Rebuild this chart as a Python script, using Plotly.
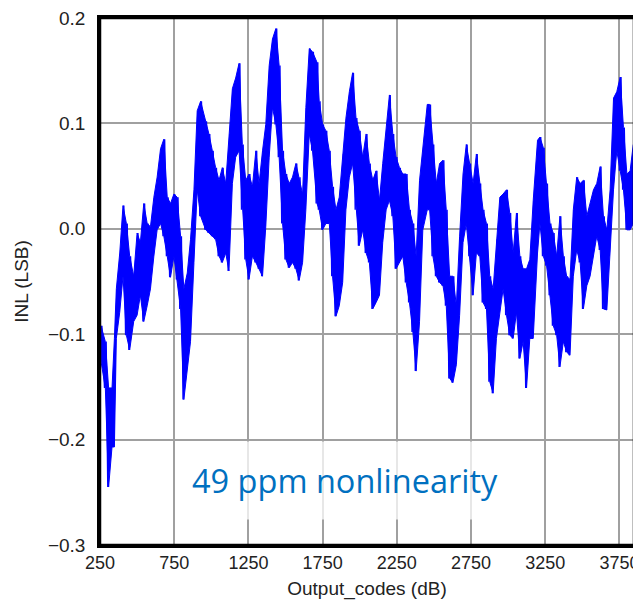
import plotly.graph_objects as go

# sample positions along the code axis, with the upper / lower edge of the INL band
codes = [257, 286, 308, 331, 347, 360, 383, 405, 428, 450, 477, 500, 522, 545, 568, 590, 613, 635, 658, 680,
         703, 725, 748, 770, 793, 815, 838, 860, 883, 905, 928, 962,
         984, 1007, 1029, 1052, 1074, 1097, 1119, 1142, 1164, 1187, 1209, 1232, 1254, 1277, 1300, 1322, 1345, 1367,
         1390, 1412, 1435, 1457, 1480, 1502, 1525, 1547, 1570, 1592, 1615, 1637, 1660, 1682, 1712,
         1727, 1750, 1772, 1795, 1817, 1840, 1862, 1885, 1907, 1930, 1952, 1975, 1997, 2020, 2043, 2065, 2088, 2110,
         2133, 2155, 2178, 2200, 2223, 2245, 2268, 2290, 2313, 2335, 2358, 2380, 2403, 2425, 2455,
         2471, 2493, 2516, 2538, 2561, 2583, 2606, 2628, 2651, 2673, 2696, 2718, 2741, 2764, 2786, 2809, 2831, 2854,
         2876, 2899, 2921, 2944, 2966, 2989, 3011, 3034, 3056, 3079, 3101, 3124, 3146, 3169, 3198,
         3214, 3237, 3259, 3282, 3304, 3327, 3349, 3372, 3394, 3417, 3439, 3462, 3485, 3507, 3530, 3552, 3575, 3597,
         3620, 3642, 3665, 3687, 3710, 3732, 3755, 3777, 3800, 3822, 3843]

inl_high = [-0.092, -0.107, -0.151, -0.151, -0.104, -0.057, -0.023, 0.022, 0.005, -0.026, -0.045, -0.004, -0.013, 0.024,
            0.005, 0.002, 0.030, 0.049, 0.076, 0.085, 0.030, 0.024, 0.033, 0.030, -0.007, -0.057, -0.042, -0.010,
            0.037, 0.112, 0.121, 0.102,
            0.090, 0.074, 0.058, 0.046, 0.058, 0.043, 0.090, 0.133, 0.143, 0.157, 0.080, 0.046, 0.052, 0.040, 0.074,
            0.043, 0.074, 0.099, 0.155, 0.180, 0.190, 0.155, 0.074, 0.052, 0.043, 0.049, 0.062, 0.049, 0.033, 0.115,
            0.171, 0.168, 0.158,
            0.121, 0.099, 0.093, 0.074, 0.040, 0.018, 0.030, 0.071, 0.105, 0.130, 0.148, 0.105, 0.093, 0.068, 0.090,
            0.062, 0.046, 0.055, 0.027, 0.062, 0.093, 0.127, 0.090, 0.068, 0.058, 0.052, 0.052, 0.018, 0.005, -0.026,
            0.046, 0.074, 0.118,
            0.118, 0.080, 0.043, 0.062, 0.065, 0.018, -0.045, -0.045, -0.073, -0.007, 0.052, 0.080, 0.062, 0.043,
            0.071, 0.043, 0.018, 0.005, -0.045, -0.057, -0.010, 0.030, 0.033, 0.037, 0.015, -0.023, 0.015, -0.026,
            -0.038, -0.038, -0.029, 0.027, 0.084,
            0.087, 0.077, 0.043, 0.005, -0.004, -0.026, 0.012, -0.026, -0.045, -0.048, 0.018, 0.049, 0.043, 0.046,
            0.012, 0.024, 0.037, 0.043, 0.059, 0.012, -0.001, 0.037, 0.124, 0.130, 0.144, 0.096, 0.052, 0.055, 0.080]

inl_low = [-0.126, -0.151, -0.245, -0.207, -0.207, -0.104, -0.079, -0.045, -0.101, -0.115, -0.088, -0.082, -0.063,
           -0.088, -0.073, -0.057, -0.026, -0.001, 0.005, -0.007, -0.026, -0.046, -0.026, -0.048, -0.076, -0.162,
           -0.132, -0.107, -0.032, 0.037, 0.012, -0.001,
           -0.004, -0.007, -0.010, -0.026, -0.032, -0.023, -0.040, 0.043, 0.068, 0.074, 0.018, -0.029, -0.048, -0.026,
           -0.032, -0.038, -0.045, 0.002, 0.068, 0.115, 0.099, 0.068, 0.005, -0.029, -0.037, -0.032, -0.038, -0.049,
           -0.032, 0.018, 0.090, 0.074, 0.024,
           0.018, -0.001, 0.005, 0.005, -0.045, -0.083, -0.073, -0.051, 0.018, 0.049, 0.062, 0.018, -0.016, -0.001,
           -0.023, -0.032, -0.076, -0.070, -0.063, -0.013, 0.018, 0.027, 0.012, -0.038, -0.032, -0.026, -0.051,
           -0.070, -0.098, -0.135, -0.088, -0.001, 0.018,
           0.018, -0.026, -0.045, -0.051, -0.054, -0.073, -0.142, -0.146, -0.129, -0.082, -0.013, 0.005, -0.026,
           -0.063, -0.023, -0.026, -0.070, -0.076, -0.145, -0.156, -0.104, -0.079, -0.057, -0.082, -0.101, -0.104,
           -0.079, -0.123, -0.107, -0.151, -0.104, -0.104, -0.023,
           0.005, -0.026, -0.035, -0.063, -0.092, -0.101, -0.131, -0.107, -0.117, -0.120, -0.045, -0.020, -0.032,
           -0.076, -0.054, -0.045, -0.026, -0.007, -0.020, -0.076, -0.077, -0.026, 0.037, 0.074, 0.055, 0.037,
           -0.001, -0.001, 0.005]

x_ticks = [250, 750, 1250, 1750, 2250, 2750, 3250, 3750]
y_ticks = [-0.3, -0.2, -0.1, 0.0, 0.1, 0.2]
y_labels = ["\u22120.3", "\u22120.2", "\u22120.1", "0.0", "0.1", "0.2"]

BLUE = "#0000ff"

# zig-zag between the lower and upper edge gives the spiky look of the noisy trace
xs, ys = [], []
for c, hi, lo in zip(codes, inl_high, inl_low):
    xs += [c - 5.5, c + 5.5]
    ys += [lo, hi]

fig = go.Figure()
# solid core of the band
fig.add_trace(go.Scatter(x=codes, y=inl_low, mode="lines", line=dict(color=BLUE, width=1), hoverinfo="skip"))
fig.add_trace(go.Scatter(x=codes, y=inl_high, mode="lines", line=dict(color=BLUE, width=1),
                         fill="tonexty", fillcolor=BLUE, hoverinfo="skip"))
fig.add_trace(go.Scatter(x=xs, y=ys, mode="lines", line=dict(color=BLUE, width=1.4), hoverinfo="skip"))

axis_font = dict(family="Liberation Sans, Arial, sans-serif", size=19, color="#222222")
xtick_font = dict(family="Liberation Sans, Arial, sans-serif", size=18, color="#222222")

# the page body adds an 8px offset, so the figure is smaller than the window
fig.update_layout(
    width=633, height=592,
    margin=dict(l=92, r=7, t=10, b=55),
    paper_bgcolor="white", plot_bgcolor="white",
    showlegend=False,
    font=axis_font,
)
fig.update_xaxes(range=[250, 3848], tickvals=x_ticks, ticktext=[str(v) for v in x_ticks],
                 showgrid=True, gridcolor="#a0a0a0", gridwidth=1.5,
                 showline=True, linecolor="black", linewidth=2.5, mirror=True,
                 ticks="", zeroline=False, tickfont=xtick_font, automargin=False,
                 ticklabeloverflow="allow",
                 title=dict(text="Output_codes (dB)", font=axis_font))
fig.update_yaxes(range=[-0.3, 0.2], tickvals=y_ticks, ticktext=y_labels,
                 showgrid=True, gridcolor="#a0a0a0", gridwidth=1.5,
                 showline=True, linecolor="black", linewidth=2.5, mirror=True,
                 ticks="", zeroline=False, tickfont=axis_font, ticklabelstandoff=8, automargin=False,
                 ticklabeloverflow="allow",
                 title=dict(text="INL (LSB)", font=axis_font))

# plot frame
fig.add_shape(type="rect", xref="paper", yref="paper", x0=0, y0=0, x1=1, y1=1,
              line=dict(color="black", width=2.5), layer="above")

fig.add_annotation(text="49 ppm nonlinearity", xref="paper", yref="paper", x=0.459, y=0.122,
                   xanchor="center", yanchor="middle",
                   showarrow=False, font=dict(family="Open Sans, sans-serif", size=32.5, color="#0070c0"),
                   bgcolor="rgba(255,255,255,0.75)", borderpad=16)

fig.write_html("out.html")
